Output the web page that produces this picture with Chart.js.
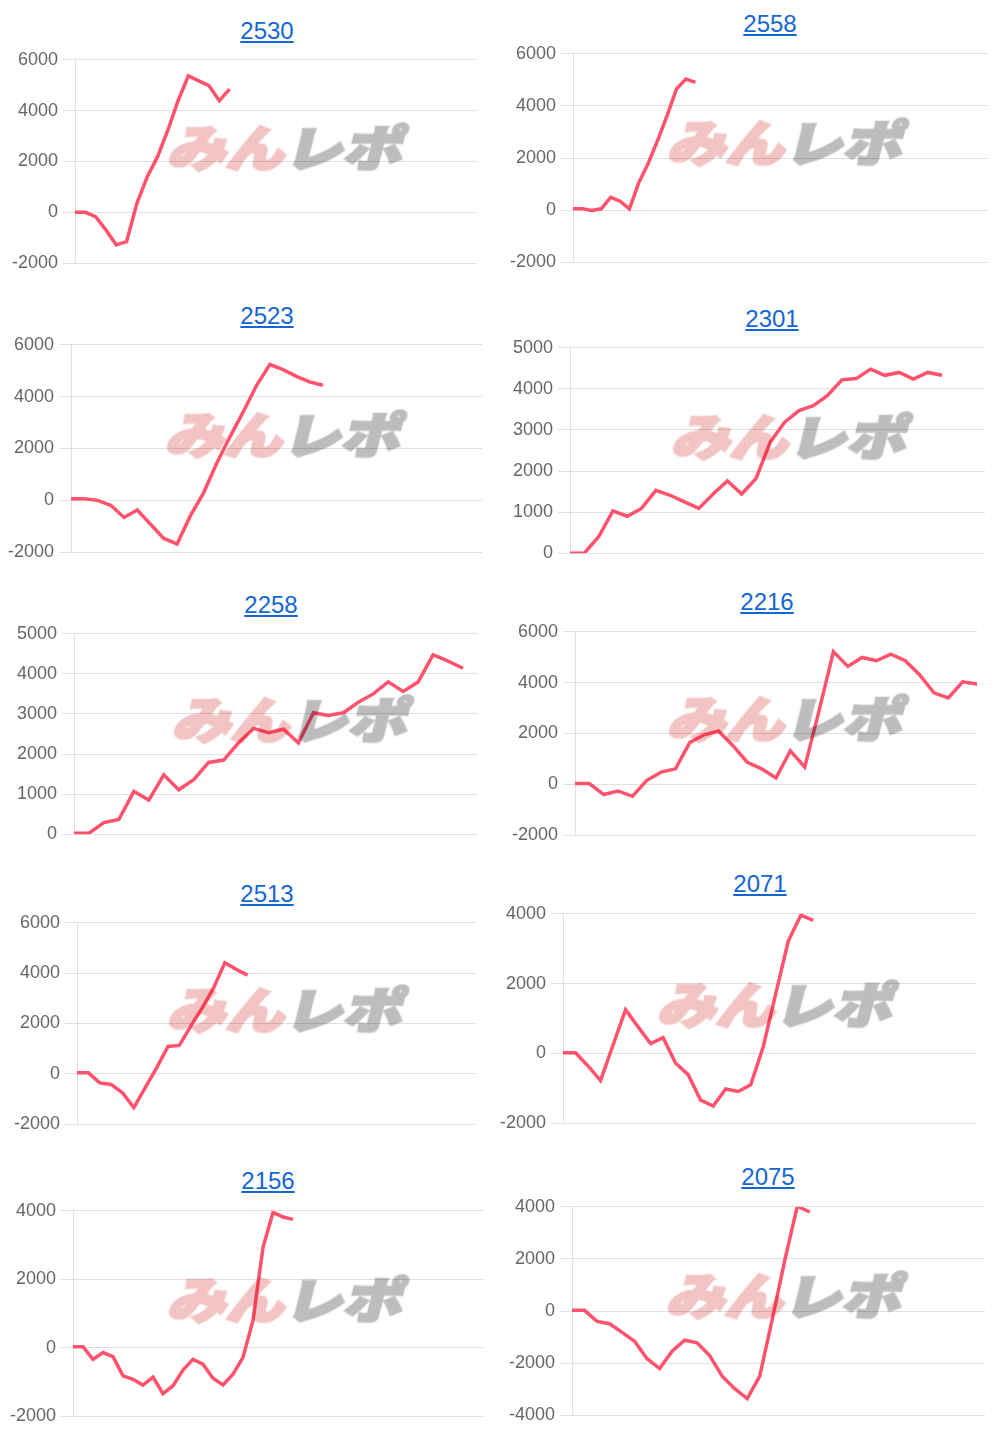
<!DOCTYPE html>
<html>
<head>
<meta charset="utf-8">
<script src="https://cdn.jsdelivr.net/npm/chart.js@4.4.0/dist/chart.umd.min.js"></script>
<style>
body { margin: 0; background: #fff; width: 1000px; height: 1440px; position: relative; overflow: hidden; font-family: "Liberation Sans", Arial, sans-serif; }
.box { position: absolute; }
.title { position: absolute; transform: translate(-50%, -50%); font-size: 24px; line-height: 1; color: #1466d4; text-decoration: underline; white-space: nowrap; }
.wm { position: absolute; pointer-events: none; font-family: "Noto Sans CJK JP", sans-serif; font-weight: 900; font-size: 48px; line-height: 1; white-space: nowrap; transform-origin: left top; transform: skewX(-14deg) scaleX(1.22); mix-blend-mode: multiply; }
.wm .a { color: #f2c4c4; -webkit-text-stroke: 3px #f2c4c4; }
.wm .b { color: #bdbdbd; -webkit-text-stroke: 3px #bdbdbd; }
</style>
</head>
<body>
<script>
// 台番号
const titles = ['2530', '2558', '2523', '2301', '2258', '2216', '2513', '2071', '2156', '2075'];

// 差枚推移
const d2530 = [0, 0, -170, -690, -1280, -1150, 350, 1390, 2180, 3220, 4390, 5370, 5170, 4980, 4390, 4850];
const d2558 = [50, 50, -10, 50, 490, 340, 50, 1060, 1800, 2680, 3630, 4650, 5030, 4900];
const d2523 = [60, 60, 0, -190, -660, -370, -920, -1470, -1680, -600, 290, 1440, 2460, 3420, 4440, 5240, 5040, 4780, 4570, 4440];
const d2301 = [0, 0, 400, 1030, 900, 1090, 1530, 1410, 1250, 1090, 1440, 1760, 1440, 1820, 2710, 3190, 3470, 3590, 3840, 4220, 4250, 4480, 4330, 4400, 4240, 4400, 4330];
const d2258 = [25, 25, 290, 370, 1070, 850, 1480, 1110, 1360, 1790, 1850, 2280, 2640, 2530, 2620, 2280, 3030, 2960, 3030, 3290, 3500, 3800, 3560, 3800, 4480, 4320, 4140];
const d2216 = [30, 30, -400, -260, -470, 160, 480, 610, 1650, 1950, 2100, 1520, 870, 610, 250, 1320, 680, 2900, 5220, 4640, 4990, 4860, 5120, 4860, 4310, 3600, 3400, 4030, 3950];
const d2513 = [40, 40, -360, -420, -750, -1340, -550, 240, 1090, 1130, 1890, 2610, 3400, 4410, 4150, 3920];
const d2071 = [20, 20, -360, -780, 240, 1250, 760, 280, 450, -280, -610, -1340, -1510, -1020, -1090, -900, 190, 1710, 3220, 3960, 3810];
const d2156 = [30, 30, -340, -140, -260, -820, -920, -1090, -860, -1340, -1110, -650, -340, -480, -890, -1090, -770, -280, 800, 2930, 3950, 3820, 3750];
const d2075 = [25, 25, -400, -490, -820, -1160, -1830, -2210, -1540, -1120, -1220, -1710, -2500, -2980, -3360, -2500, -320, 1940, 4020, 3800];
const series = [d2530, d2558, d2523, d2301, d2258, d2216, d2513, d2071, d2156, d2075];

// x軸のラベル数（表示はしない）
const labelCounts = [40, 45, 32, 30, 28, 29, 36, 34, 42, 34];

// y軸
const yMin = [-2000, -2000, -2000, 0, 0, -2000, -2000, -2000, -2000, -4000];
const yMax = [6000, 6000, 6000, 5000, 5000, 6000, 6000, 4000, 4000, 4000];
const yStep = [2000, 2000, 2000, 1000, 1000, 2000, 2000, 2000, 2000, 2000];

// 配置 [列の左端, plot左, plot右, plot上, plot下, タイトルx, タイトルy, ロゴx, ロゴy]
const layout = [
  [0, 75, 477, 59, 264, 267, 31, 168, 122],
  [495, 573, 987, 53, 263, 770, 24, 668, 117],
  [0, 71, 482, 344, 553, 267, 316, 166, 409],
  [495, 570, 985, 347, 554, 772, 319, 672, 411],
  [0, 74, 478, 633, 835, 271, 605, 173, 694],
  [495, 575, 977, 631, 836, 767, 602, 668, 693],
  [0, 77, 475, 922, 1125, 267, 894, 168, 984],
  [495, 563, 976, 913, 1124, 760, 884, 658, 979],
  [0, 73, 483, 1210, 1417, 268, 1181, 168, 1274],
  [495, 572, 985, 1206, 1416, 768, 1177, 667, 1270]
];

const pad = 15;

function makeChart(i) {
  const [colLeft, pl, pr, pt, pb, tx, ty, wx, wy] = layout[i];

  const box = document.createElement('div');
  box.className = 'box';
  box.style.left = colLeft + 'px';
  box.style.top = (pt - pad) + 'px';
  box.style.width = (pr - colLeft) + 'px';
  box.style.height = (pb - pt + pad * 2) + 'px';
  const cv = document.createElement('canvas');
  box.appendChild(cv);
  document.body.appendChild(box);

  const t = document.createElement('a');
  t.className = 'title';
  t.href = '#';
  t.textContent = titles[i];
  t.style.left = tx + 'px';
  t.style.top = ty + 'px';
  document.body.appendChild(t);

  // ロゴ（透かし）
  const wm = document.createElement('div');
  wm.className = 'wm';
  wm.innerHTML = '<span class="a">みん</span><span class="b">レポ</span>';
  wm.style.left = (wx + 10) + 'px';
  wm.style.top = (wy - 1) + 'px';
  document.body.appendChild(wm);

  const labels = [];
  for (let k = 0; k < labelCounts[i]; k++) labels.push(k + 1);

  new Chart(cv, {
    type: 'line',
    data: {
      labels: labels,
      datasets: [{
        data: series[i],
        borderColor: 'rgb(255, 82, 108)',
        borderWidth: 3.5,
        pointRadius: 0,
        tension: 0,
        fill: false
      }]
    },
    options: {
      responsive: true,
      maintainAspectRatio: false,
      animation: false,
      layout: { padding: { top: pad, bottom: pad, left: 0, right: 0 } },
      plugins: { legend: { display: false }, tooltip: { enabled: false } },
      scales: {
        x: { display: false },
        y: {
          min: yMin[i],
          max: yMax[i],
          afterFit: (s) => { s.width = pl - colLeft; },
          ticks: {
            stepSize: yStep[i],
            color: '#666',
            padding: 5,
            font: { family: '"Liberation Sans", Arial, sans-serif', size: 18 },
            callback: (v) => String(v)
          },
          grid: { color: 'rgba(0,0,0,0.12)', tickLength: 12 },
          border: { color: 'rgba(0,0,0,0.12)' }
        }
      }
    }
  });
}

for (let i = 0; i < titles.length; i++) makeChart(i);
</script>
</body>
</html>
